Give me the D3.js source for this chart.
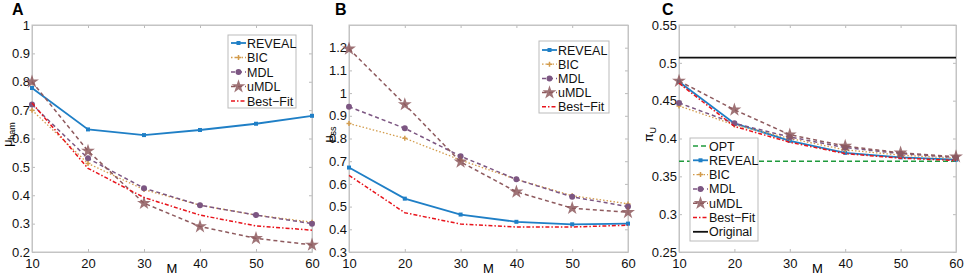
<!DOCTYPE html>
<html lang="en">
<head>
    <meta charset="UTF-8">
    <title>REVEAL comparison</title>
    <script src="https://d3js.org/d3.v7.min.js"></script>
    <style>
        body { margin: 0; background: #fff; }
        svg { display: block; font-family: "Liberation Sans", Arial, sans-serif; }
        .tick text { font-size: 13px; fill: #111; }
    </style>
</head>
<body>
    <div id="chart"></div>
    <script>
        // x values shared by all panels
        const M = [10, 20, 30, 40, 50, 60];

        // panel A: mu_ham
        const aReveal = [0.778, 0.632, 0.612, 0.630, 0.652, 0.680];
        const aBic    = [0.700, 0.512, 0.420, 0.365, 0.330, 0.305];
        const aMdl    = [0.720, 0.530, 0.425, 0.365, 0.330, 0.300];
        const aUmdl   = [0.800, 0.556, 0.372, 0.290, 0.248, 0.225];
        const aBest   = [0.725, 0.495, 0.392, 0.330, 0.292, 0.277];

        // panel B: mu_ss
        const bReveal = [0.672, 0.535, 0.465, 0.433, 0.422, 0.425];
        const bBic    = [0.866, 0.801, 0.705, 0.620, 0.548, 0.512];
        const bMdl    = [0.940, 0.845, 0.722, 0.620, 0.543, 0.500];
        const bUmdl   = [1.195, 0.950, 0.697, 0.565, 0.493, 0.475];
        const bBest   = [0.638, 0.473, 0.423, 0.410, 0.410, 0.418];

        // panel C: pi_U
        const cOpt      = [0.370, 0.370, 0.370, 0.370, 0.370, 0.370];
        const cReveal   = [0.475, 0.420, 0.397, 0.381, 0.375, 0.372];
        const cBic      = [0.443, 0.418, 0.400, 0.385, 0.378, 0.374];
        const cMdl      = [0.447, 0.420, 0.402, 0.388, 0.380, 0.375];
        const cUmdl     = [0.476, 0.438, 0.405, 0.390, 0.381, 0.376];
        const cBest     = [0.473, 0.416, 0.395, 0.380, 0.374, 0.371];
        const cOriginal = [0.507, 0.507, 0.507, 0.507, 0.507, 0.507];

        const yTicksA = [0.2, 0.3, 0.4, 0.5, 0.6, 0.7, 0.8, 0.9, 1];
        const yTicksB = [0.3, 0.4, 0.5, 0.6, 0.7, 0.8, 0.9, 1, 1.1, 1.2];
        const yTicksC = [0.25, 0.3, 0.35, 0.4, 0.45, 0.5, 0.55];

        const styles = {
            "OPT":      {color: "#1f9a3c", dash: "5,3", marker: null, width: 1.6},
            "REVEAL":   {color: "#1f7fc6", dash: null, marker: "square", width: 1.8},
            "BIC":      {color: "#d39c4c", dash: "1.5,2", marker: "plus", width: 1.3},
            "MDL":      {color: "#7c5682", dash: "4,3", marker: "dot", width: 1.5},
            "uMDL":     {color: "#8e5a5e", dash: "4,3", marker: "star", width: 1.5},
            "Best\u2212Fit": {color: "#e8141c", dash: "4,2,1.5,2", marker: null, width: 1.5},
            "Original": {color: "#111", dash: null, marker: null, width: 1.8}
        };

        const svg = d3.select("#chart").append("svg")
            .attr("width", 964).attr("height", 276);

        const panels = [
            {letter: "A", lx: 12, left: 32, right: 312, yDom: [0.2, 1], ticks: yTicksA, fmt: d => d === 1 ? "1" : d3.format(".1f")(d),
             ylab: ["\u03bc", "ham"], ylx: 12, series: [["REVEAL", aReveal], ["BIC", aBic], ["MDL", aMdl], ["uMDL", aUmdl], ["Best\u2212Fit", aBest]],
             legend: {x: 228, y: 35, w: 68, h: 73, first: 8, step: 14.5}},
            {letter: "B", lx: 335, left: 349, right: 628, yDom: [0.3, 1.3], ticks: yTicksB, fmt: d => d === 1 ? "1" : d3.format(".1f")(d),
             ylab: ["\u03bc", "ss"], ylx: 333, series: [["REVEAL", bReveal], ["BIC", bBic], ["MDL", bMdl], ["uMDL", bUmdl], ["Best\u2212Fit", bBest]],
             legend: {x: 539, y: 41, w: 70, h: 72, first: 9, step: 14.2}},
            {letter: "C", lx: 662, left: 679, right: 956, yDom: [0.25, 0.55], ticks: yTicksC, fmt: d => String(d),
             ylab: ["\u03c0", "U"], ylx: 653, series: [["OPT", cOpt], ["REVEAL", cReveal], ["BIC", cBic], ["MDL", cMdl], ["uMDL", cUmdl], ["Best\u2212Fit", cBest], ["Original", cOriginal]],
             legend: {x: 690, y: 138, w: 68, h: 103, first: 8, step: 14.3}}
        ];

        const yTop = 25, yBottom = 252;
        const star = d3.symbol().type(d3.symbolStar).size(60);

        function marker(g, type, color, x, y) {
            if (type === "square") {
                g.append("rect").attr("x", x - 2).attr("y", y - 2).attr("width", 4).attr("height", 4).attr("fill", color);
            } else if (type === "plus") {
                g.append("path").attr("d", `M${x - 2.5},${y}H${x + 2.5}M${x},${y - 2.5}V${y + 2.5}`)
                    .attr("stroke", color).attr("stroke-width", 1.5);
            } else if (type === "dot") {
                g.append("circle").attr("cx", x).attr("cy", y).attr("r", 3).attr("fill", color);
            } else if (type === "star") {
                g.append("path").attr("d", star).attr("transform", `translate(${x},${y})`)
                    .attr("fill", color).attr("opacity", 0.85);
            }
        }

        panels.forEach(p => {
            const x = d3.scaleLinear().domain([10, 60]).range([p.left, p.right]);
            const y = d3.scaleLinear().domain(p.yDom).range([yBottom, yTop]);
            const g = svg.append("g");

            // axes with inward ticks like MATLAB
            const xa = g.append("g").attr("transform", `translate(0,${yBottom})`)
                .call(d3.axisBottom(x).tickValues(M).tickSizeInner(-3).tickSizeOuter(0).tickPadding(4));
            g.append("g").attr("transform", `translate(${p.left},0)`)
                .call(d3.axisLeft(y).tickValues(p.ticks).tickFormat(p.fmt).tickSizeInner(-3).tickSizeOuter(0).tickPadding(2));
            g.append("g").attr("transform", `translate(0,${yTop})`)
                .call(d3.axisTop(x).tickValues(M).tickFormat("").tickSizeInner(-3).tickSizeOuter(0));
            g.append("g").attr("transform", `translate(${p.right},0)`)
                .call(d3.axisRight(y).tickValues(p.ticks).tickFormat("").tickSizeInner(-3).tickSizeOuter(0));
            g.selectAll(".domain").attr("stroke", "#c4c4c4");
            g.selectAll(".tick line").attr("stroke", "#bbb");
            xa.selectAll("text").attr("dy", "0.9em");

            g.append("rect").attr("x", p.left).attr("y", yTop).attr("width", p.right - p.left).attr("height", yBottom - yTop)
                .attr("fill", "none").attr("stroke", "#c4c4c4");

            // series
            const line = d3.line().x((d, i) => x(M[i])).y(d => y(d));
            p.series.forEach(([name, vals]) => {
                const s = styles[name];
                g.append("path").datum(vals).attr("d", line)
                    .attr("fill", "none").attr("stroke", s.color).attr("stroke-width", s.width)
                    .attr("stroke-dasharray", s.dash);
                if (s.marker) vals.forEach((v, i) => marker(g, s.marker, s.color, x(M[i]), y(v)));
            });

            // legend
            const L = p.legend;
            g.append("rect").attr("x", L.x).attr("y", L.y).attr("width", L.w).attr("height", L.h)
                .attr("fill", "#fff").attr("stroke", "#bbb");
            p.series.forEach(([name], i) => {
                const s = styles[name];
                const cy = L.y + L.first + L.step * i;
                g.append("line").attr("x1", L.x + 3).attr("x2", L.x + 18).attr("y1", cy).attr("y2", cy)
                    .attr("stroke", s.color).attr("stroke-width", s.width).attr("stroke-dasharray", s.dash);
                if (s.marker) marker(g, s.marker, s.color, L.x + 10.5, cy);
                g.append("text").attr("x", L.x + 19).attr("y", cy).attr("dy", "0.36em")
                    .attr("font-size", 12.5).attr("fill", "#111").text(name);
            });

            // labels
            g.append("text").attr("x", p.lx).attr("y", 15).attr("font-size", 16).attr("font-weight", "bold").text(p.letter);
            g.append("text").attr("x", (p.left + p.right) / 2).attr("y", 273).attr("text-anchor", "middle")
                .attr("font-size", 13).text("M");
            const yl = g.append("text").attr("transform", `translate(${p.ylx},${(yTop + yBottom) / 2 - 4}) rotate(-90)`)
                .attr("text-anchor", "middle").attr("font-size", 12.5);
            yl.append("tspan").text(p.ylab[0]);
            yl.append("tspan").attr("font-size", 9).attr("dy", 3).text(p.ylab[1]);
        });
    </script>
</body>
</html>
